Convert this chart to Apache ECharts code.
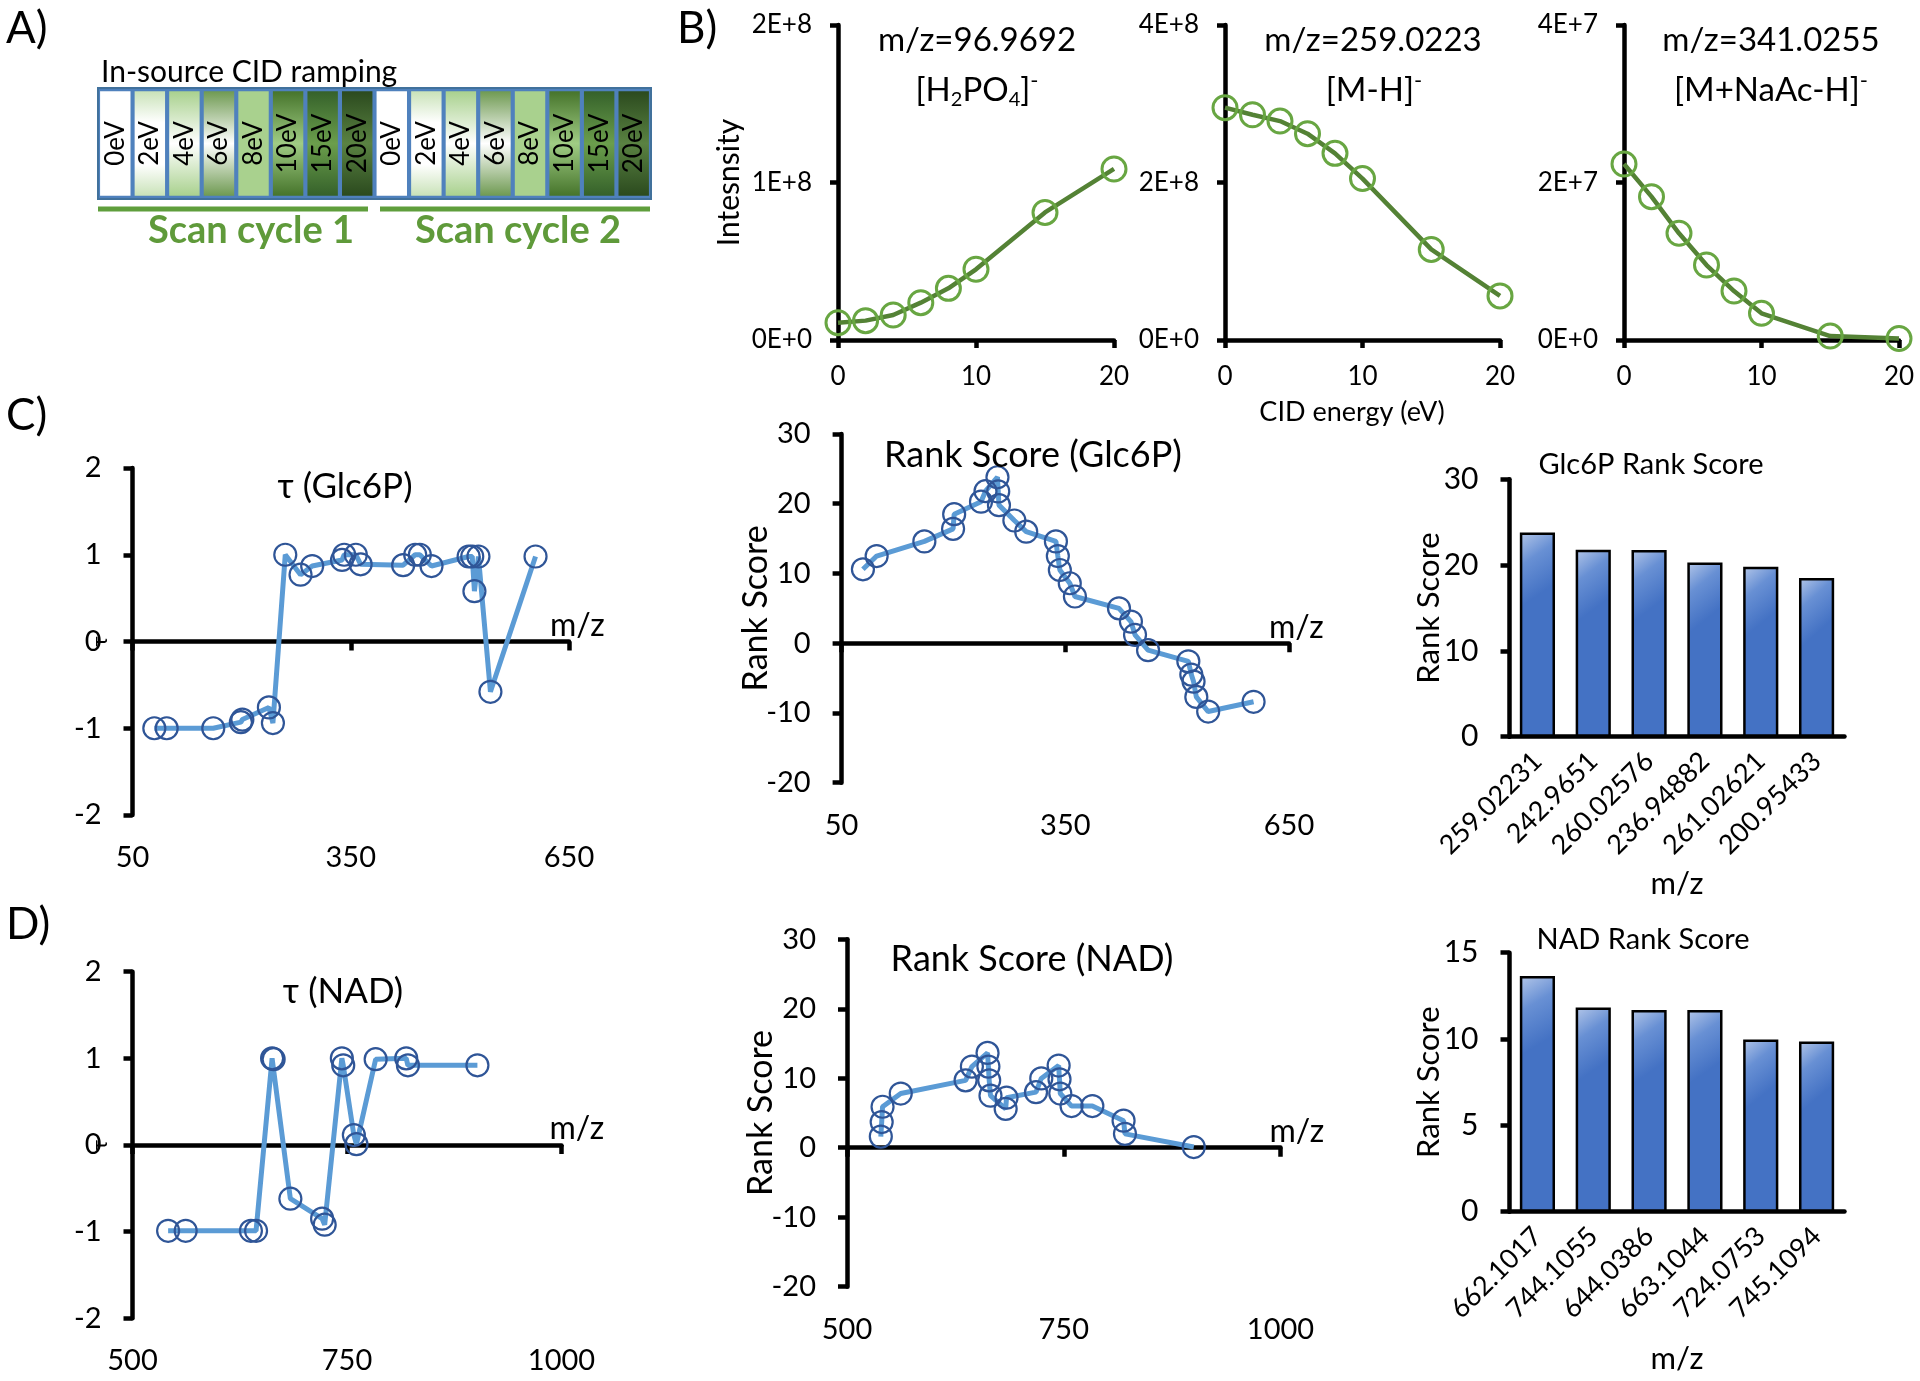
<!DOCTYPE html>
<html>
<head>
<meta charset="utf-8">
<script src="https://cdn.jsdelivr.net/npm/echarts@6/dist/echarts.min.js"></script>
<style>html,body{margin:0;padding:0;background:#fff}#main{width:1920px;height:1381px}</style>
</head>
<body>
<div id="main"></div>
<script>
// A) in-source CID ramping cells
var cellLabels = ['0eV','2eV','4eV','6eV','8eV','10eV','15eV','20eV','0eV','2eV','4eV','6eV','8eV','10eV','15eV','20eV'];
var cellHeights = [1,1,1,1,1,1,1,1,1,1,1,1,1,1,1,1];

// B) intensity vs CID energy
var cidEnergy = [0, 2, 4, 6, 8, 10, 15, 20];
var int96 = [1.1e7, 1.23e7, 1.59e7, 2.37e7, 3.28e7, 4.49e7, 8.1e7, 1.086e8];
var int259 = [2.95e8, 2.86e8, 2.78e8, 2.62e8, 2.37e8, 2.05e8, 1.15e8, 0.56e8];
var int341 = [2.235e7, 1.82e7, 1.355e7, 0.952e7, 0.622e7, 0.339e7, 0.05e7, 0.02e7];

// C) Glc6P
var tauGlcMz = [80, 97, 161, 199, 201, 237.5, 243, 260, 281, 297, 338, 341, 357, 363.6, 422, 438.6, 445, 461, 512, 517, 520, 525.5, 542, 604];
var tauGlc = [-1, -1, -1, -0.93, -0.9, -0.76, -0.94, 1.0, 0.77, 0.87, 0.94, 1.0, 1.0, 0.89, 0.88, 1.0, 1.0, 0.87, 0.98, 0.98, 0.58, 0.98, -0.58, 0.98];
var rankGlcMz = [78.6, 97, 161, 199.5, 200.95, 236.95, 242.97, 259.02, 260.03, 261.03, 281.7, 297.6, 337.4, 340, 342.7, 356, 362.9, 422, 438, 443.5, 461, 515, 519, 522, 525.7, 541.6, 602.5];
var rankGlc = [10.6, 12.5, 14.6, 16.4, 18.5, 20.3, 21.8, 23.8, 21.76, 19.8, 17.6, 16.0, 14.6, 12.5, 10.5, 8.6, 6.7, 5.0, 3.1, 1.2, -1.0, -2.6, -4.5, -5.5, -7.7, -9.8, -8.4];
var topGlcMz = ['259.02231', '242.9651', '260.02576', '236.94882', '261.02621', '200.95433'];
var topGlc = [23.8, 21.8, 21.76, 20.3, 19.8, 18.5];

// D) NAD
var tauNadMz = [541.5, 562, 638, 644, 662.7, 664.5, 684, 721, 724, 744, 745.6, 758, 761, 783.4, 819, 821, 902];
var tauNad = [-0.99, -0.99, -0.99, -0.99, 1.0, 0.99, -0.62, -0.85, -0.92, 1.0, 0.92, 0.115, 0.01, 0.99, 1.0, 0.92, 0.92];
var rankNadMz = [539, 540, 541, 562, 636.8, 644.04, 662.1, 663.1, 664, 665.5, 683, 684, 718, 724.08, 744.11, 745.11, 746, 759, 783, 819, 820.6, 900];
var rankNad = [1.6, 3.7, 5.9, 7.8, 9.7, 11.68, 13.65, 11.68, 9.7, 7.5, 5.6, 7.2, 8.0, 9.98, 11.83, 9.85, 7.8, 6.0, 6.0, 3.9, 2.0, 0.1];
var topNadMz = ['662.1017', '744.1055', '644.0386', '663.1044', '724.0753', '745.1094'];
var topNad = [13.65, 11.83, 11.68, 11.68, 9.98, 9.85];

var FONT = 'Lato, "Noto Sans", sans-serif';
var AX = {color: '#000', width: 4.5};
var grids = [], xAxes = [], yAxes = [], series = [], graphics = [];

function vgrad(edge, mid) {
  return {type: 'linear', x: 0, y: 0, x2: 0, y2: 1, colorStops: [
    {offset: 0, color: edge}, {offset: 0.5, color: mid}, {offset: 1, color: edge}]};
}
var cellFill = {
  '0eV': '#ffffff',
  '2eV': {type: 'linear', x: 0, y: 0, x2: 0, y2: 1, colorStops: [
    {offset: 0, color: '#c9e2b8'}, {offset: 0.3, color: '#ffffff'}, {offset: 0.7, color: '#ffffff'}, {offset: 1, color: '#c9e2b8'}]},
  '4eV': vgrad('#a9d18e', '#ffffff'),
  '6eV': vgrad('#6f9a52', '#ffffff'),
  '8eV': '#a9d18e',
  '10eV': vgrad('#46742b', '#a0cc84'),
  '15eV': vgrad('#35612a', '#6b9e4c'),
  '20eV': vgrad('#2b4a1e', '#5a8242')
};

function sci(v) {
  if (v === 0) return '0E+0';
  var e = Math.floor(Math.log10(v) + 1e-9);
  return Math.round(v / Math.pow(10, e)) + 'E+' + e;
}
function plain(v) { return String(v); }

function energyPlot(rect, ys, ymax, yName) {
  grids.push({left: rect[0], top: rect[1], width: rect[2], height: rect[3]});
  var gi = grids.length - 1;
  xAxes.push({gridIndex: gi, type: 'value', min: 0, max: 20, interval: 10,
    axisLine: {onZero: false, lineStyle: AX}, axisTick: {length: 8, lineStyle: AX},
    axisLabel: {fontSize: 26, margin: 24, color: '#000', formatter: plain}, splitLine: {show: false}});
  yAxes.push({gridIndex: gi, type: 'value', min: 0, max: ymax, interval: ymax / 2,
    axisLine: {show: true, onZero: false, lineStyle: AX}, axisTick: {show: true, length: 8, lineStyle: AX},
    axisLabel: {fontSize: 26, margin: 26, color: '#000', formatter: sci}, splitLine: {show: false},
    name: yName || '', nameLocation: 'middle', nameGap: 94, nameMoveOverlap: false,
    nameTextStyle: {fontSize: 30, color: '#000'}});
  series.push({type: 'line', xAxisIndex: xAxes.length - 1, yAxisIndex: yAxes.length - 1,
    data: cidEnergy.map(function (e, i) { return [e, ys[i]]; }),
    symbol: 'circle', symbolSize: 24, showAllSymbol: true,
    itemStyle: {color: 'rgba(0,0,0,0)', borderColor: '#68a642', borderWidth: 3},
    lineStyle: {color: '#548235', width: 4.5}});
}

function mzPlot(rect, mz, vals, xmin, xmax, xint, ymin, ymax, yint, yName, yGap, yFont, mzGap) {
  grids.push({left: rect[0], top: rect[1], width: rect[2], height: rect[3]});
  var gi = grids.length - 1;
  xAxes.push({gridIndex: gi, type: 'value', position: 'bottom', min: xmin, max: xmax, interval: xint,
    axisLine: {onZero: true, lineStyle: AX}, axisTick: {length: 9, lineStyle: AX}, axisLabel: {show: false},
    splitLine: {show: false}, name: 'm/z', nameLocation: 'end', nameGap: mzGap, nameMoveOverlap: false,
    nameTextStyle: {fontSize: 32, color: '#000', align: 'left', verticalAlign: 'bottom'}});
  var xi = xAxes.length - 1;
  xAxes.push({gridIndex: gi, type: 'value', position: 'bottom', min: xmin, max: xmax, interval: xint,
    axisLine: {show: false, onZero: false}, axisTick: {show: false},
    axisLabel: {fontSize: 29, margin: 28, color: '#000', formatter: plain}, splitLine: {show: false}});
  yAxes.push({gridIndex: gi, type: 'value', min: ymin, max: ymax, interval: yint,
    axisLine: {show: true, onZero: false, lineStyle: AX}, axisTick: {show: true, length: 9, lineStyle: AX},
    axisLabel: {fontSize: 29, margin: 31, color: '#000', formatter: plain}, splitLine: {show: false},
    name: yName, nameLocation: 'middle', nameRotate: 90, nameGap: yGap, nameMoveOverlap: false,
    nameTextStyle: {fontSize: yFont, color: '#000'}});
  series.push({type: 'line', xAxisIndex: xi, yAxisIndex: yAxes.length - 1,
    data: mz.map(function (m, i) { return [m, vals[i]]; }),
    symbol: 'circle', symbolSize: 22, showAllSymbol: true,
    itemStyle: {color: 'rgba(0,0,0,0)', borderColor: '#2f5597', borderWidth: 2.2},
    lineStyle: {color: '#5b9bd5', width: 5}});
}

function rankBars(rect, cats, vals, ymax, yint) {
  grids.push({left: rect[0], top: rect[1], width: rect[2], height: rect[3]});
  var gi = grids.length - 1;
  xAxes.push({gridIndex: gi, type: 'category', data: cats,
    axisLine: {lineStyle: AX}, axisTick: {length: 8, lineStyle: AX},
    axisLabel: {rotate: 45, interval: 0, fontSize: 27, margin: 20, color: '#000'},
    name: 'm/z', nameLocation: 'middle', nameGap: 132, nameMoveOverlap: false,
    nameTextStyle: {fontSize: 31, color: '#000'}});
  yAxes.push({gridIndex: gi, type: 'value', min: 0, max: ymax, interval: yint,
    axisLine: {show: true, lineStyle: AX}, axisTick: {show: true, length: 9, lineStyle: AX},
    axisLabel: {fontSize: 30, margin: 31, color: '#000'}, splitLine: {show: false},
    name: 'Rank Score', nameLocation: 'middle', nameGap: 65, nameMoveOverlap: false,
    nameTextStyle: {fontSize: 31, color: '#000'}});
  series.push({type: 'bar', xAxisIndex: xAxes.length - 1, yAxisIndex: yAxes.length - 1,
    data: vals, barCategoryGap: '37%',
    itemStyle: {borderColor: '#000', borderWidth: 2.5,
      color: {type: 'linear', x: 0, y: 0, x2: 1, y2: 0.25, colorStops: [
        {offset: 0, color: '#b4c7e9'}, {offset: 0.45, color: '#6890d4'}, {offset: 1, color: '#4472c4'}]}}});
}

// panel A grid: blue frame, cells as bars
grids.push({left: 98, top: 88, width: 553, height: 111, show: true,
  backgroundColor: '#4f81bd', borderColor: '#41719c', borderWidth: 2});
xAxes.push({gridIndex: 0, type: 'category', data: cellLabels.map(function (c, i) { return i; }), show: false});
yAxes.push({gridIndex: 0, type: 'value', min: -0.03, max: 1.03, show: false});
series.push({type: 'bar', xAxisIndex: 0, yAxisIndex: 0, barCategoryGap: '12%',
  data: cellHeights.map(function (h, i) { return {value: h, itemStyle: {color: cellFill[cellLabels[i]]}}; }),
  label: {show: true, position: 'inside', rotate: 90, fontSize: 26, color: '#000', fontFamily: FONT,
    formatter: function (p) { return cellLabels[p.dataIndex]; }}});

energyPlot([838, 25, 276, 315], int96, 2e8, 'Intesnsity');
energyPlot([1225, 25, 275, 315], int259, 4e8, '');
energyPlot([1624, 25, 275, 315], int341, 4e7, '');

mzPlot([132.5, 468, 436.5, 347], tauGlcMz, tauGlc, 50, 650, 300, -2, 2, 1, 'τ', 22, 22, -19);
mzPlot([841.6, 434, 447.4, 348.7], rankGlcMz, rankGlc, 50, 650, 300, -20, 30, 10, 'Rank Score', 69, 34, -20);
rankBars([1509.5, 479.3, 335, 257.4], topGlcMz, topGlc, 30, 10);

mzPlot([132.5, 971.7, 429, 346.6], tauNadMz, tauNad, 500, 1000, 250, -2, 2, 1, 'τ', 22, 22, -12);
mzPlot([847, 939.3, 433.5, 347.4], rankNadMz, rankNad, 500, 1000, 250, -20, 30, 10, 'Rank Score', 69, 34, -11);
rankBars([1509.5, 952.7, 335, 259], topNadMz, topNad, 15, 5);

function txt(x, y, s, size, opts) {
  var st = {text: s, fontSize: size, fontFamily: FONT, fill: '#000', align: 'center', verticalAlign: 'middle'};
  for (var k in (opts || {})) st[k] = opts[k];
  graphics.push({type: 'text', x: x, y: y, style: st, z: 100});
}
function richTitle(x, y, s) {
  graphics.push({type: 'text', x: x, y: y, z: 100, style: {text: s, fontFamily: FONT, fill: '#000',
    align: 'center', verticalAlign: 'middle',
    rich: {n: {fontSize: 33, fontFamily: FONT, lineHeight: 40},
      s: {fontSize: 20, fontFamily: FONT, lineHeight: 20, verticalAlign: 'bottom'},
      p: {fontSize: 22, fontFamily: FONT, lineHeight: 22, verticalAlign: 'top'}}}});
}

txt(6, 29, 'A)', 44, {align: 'left'});
txt(677, 29, 'B)', 44, {align: 'left'});
txt(6, 416, 'C)', 44, {align: 'left'});
txt(6, 925, 'D)', 44, {align: 'left'});

txt(101, 72, 'In-source CID ramping', 30, {align: 'left'});
graphics.push({type: 'line', shape: {x1: 98, y1: 209, x2: 368, y2: 209}, style: {stroke: '#5f9e3c', lineWidth: 5}});
graphics.push({type: 'line', shape: {x1: 380, y1: 209, x2: 650, y2: 209}, style: {stroke: '#5f9e3c', lineWidth: 5}});
txt(251, 231, 'Scan cycle 1', 38, {fontWeight: 'bold', fill: '#5f9a3a'});
txt(518, 231, 'Scan cycle 2', 38, {fontWeight: 'bold', fill: '#5f9a3a'});

txt(977, 40, 'm/z=96.9692', 33);
richTitle(977, 90, '{n|[H}{s|2}{n|PO}{s|4}{n|]}{p|-}');
txt(1373, 40, 'm/z=259.0223', 33);
richTitle(1374, 90, '{n|[M-H]}{p|-}');
txt(1771, 40, 'm/z=341.0255', 33);
richTitle(1771, 90, '{n|[M+NaAc-H]}{p|-}');
txt(1352, 412, 'CID energy (eV)', 27);

txt(345, 487, 'τ (Glc6P)', 35);
txt(1033, 455, 'Rank Score (Glc6P)', 36);
txt(1651, 465, 'Glc6P Rank Score', 29);
txt(343, 992, 'τ (NAD)', 35);
txt(1032, 959, 'Rank Score (NAD)', 36);
txt(1643, 940, 'NAD Rank Score', 29);

var chart = echarts.init(document.getElementById('main'));
chart.setOption({
  animation: false,
  backgroundColor: '#fff',
  textStyle: {fontFamily: FONT, color: '#000'},
  grid: grids,
  xAxis: xAxes,
  yAxis: yAxes,
  series: series,
  graphic: graphics
});
</script>
</body>
</html>
